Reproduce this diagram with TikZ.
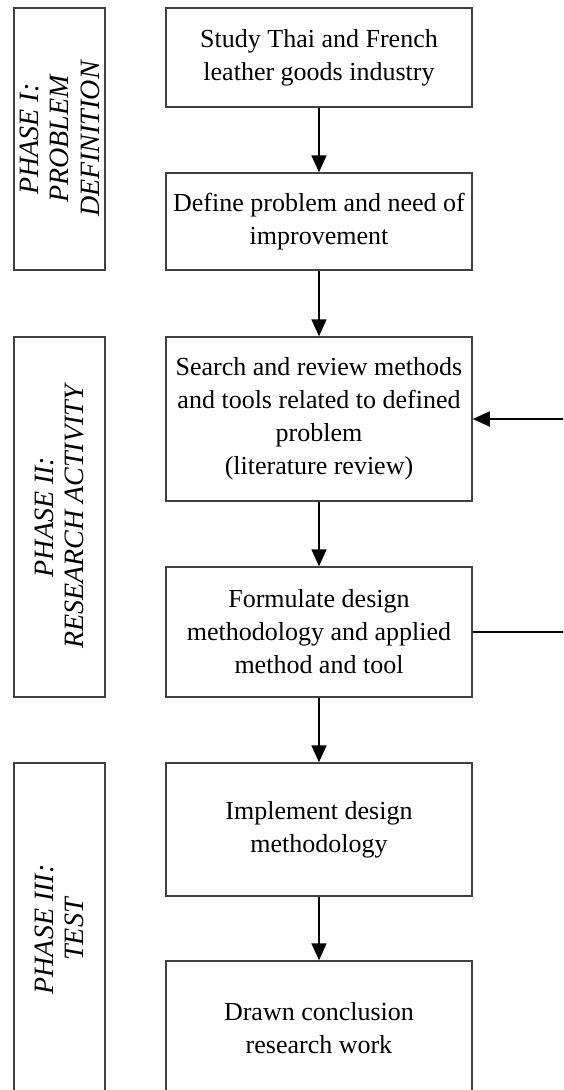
\documentclass[tikz,border=0pt]{standalone}
\usepackage{fontspec}
\setmainfont{Liberation Serif}
\usetikzlibrary{arrows.meta}
\tikzset{
  stepbox/.style={draw=black!75, line width=1.5pt, fill=white, minimum width=306pt, inner sep=2pt,
    align=center, font=\fontsize{26}{33}\selectfont},
  phasebox/.style={draw=black!75, line width=1.5pt, rotate=90, inner sep=0pt, minimum height=91pt,
    align=center, font=\fontsize{28}{30.5}\selectfont\itshape},
  flow/.style={line width=1.8pt, -{Triangle[width=15pt,length=17pt]}}
}
\begin{document}
\begin{tikzpicture}[x=1pt,y=-1pt]
\useasboundingbox (0,0) rectangle (563,1090);
\clip (0,0) rectangle (563,1090);
% step boxes
\node[stepbox, minimum height=99pt] (b1) at (319,57.5) {Study Thai and French\\leather goods industry};
\node[stepbox, minimum height=97pt] (b2) at (319,221.5) {Define problem and need of\\improvement};
\node[stepbox, minimum height=164pt] (b3) at (319,419) {Search and review methods\\and tools related to defined\\problem\\(literature review)};
\node[stepbox, minimum height=130pt] (b4) at (319,632) {Formulate design\\methodology and applied\\method and tool};
\node[stepbox, minimum height=133pt] (b5) at (319,829.5) {Implement design\\methodology};
\node[stepbox, minimum height=135pt] (b6) at (319,1028.5) {Drawn conclusion\\research work};
% phase boxes
\node[phasebox, minimum width=262pt] (p1) at (59.5,139) {PHASE I:\\PROBLEM\\DEFINITION};
\node[phasebox, minimum width=360pt] (p2) at (59.5,517) {PHASE II:\\RESEARCH ACTIVITY};
\node[phasebox, minimum width=333pt] (p3) at (59.5,929.5) {PHASE III:\\TEST};
% flow
\draw[flow] (b1) -- (b2);
\draw[flow] (b2) -- (b3);
\draw[flow] (b3) -- (b4);
\draw[flow] (b4) -- (b5);
\draw[flow] (b5) -- (b6);
% feedback loop (vertical part lies outside the picture)
\coordinate (fb) at (600,632);
\draw[flow] (b4.east) -- (fb) |- (b3.east);
\end{tikzpicture}
\end{document}
